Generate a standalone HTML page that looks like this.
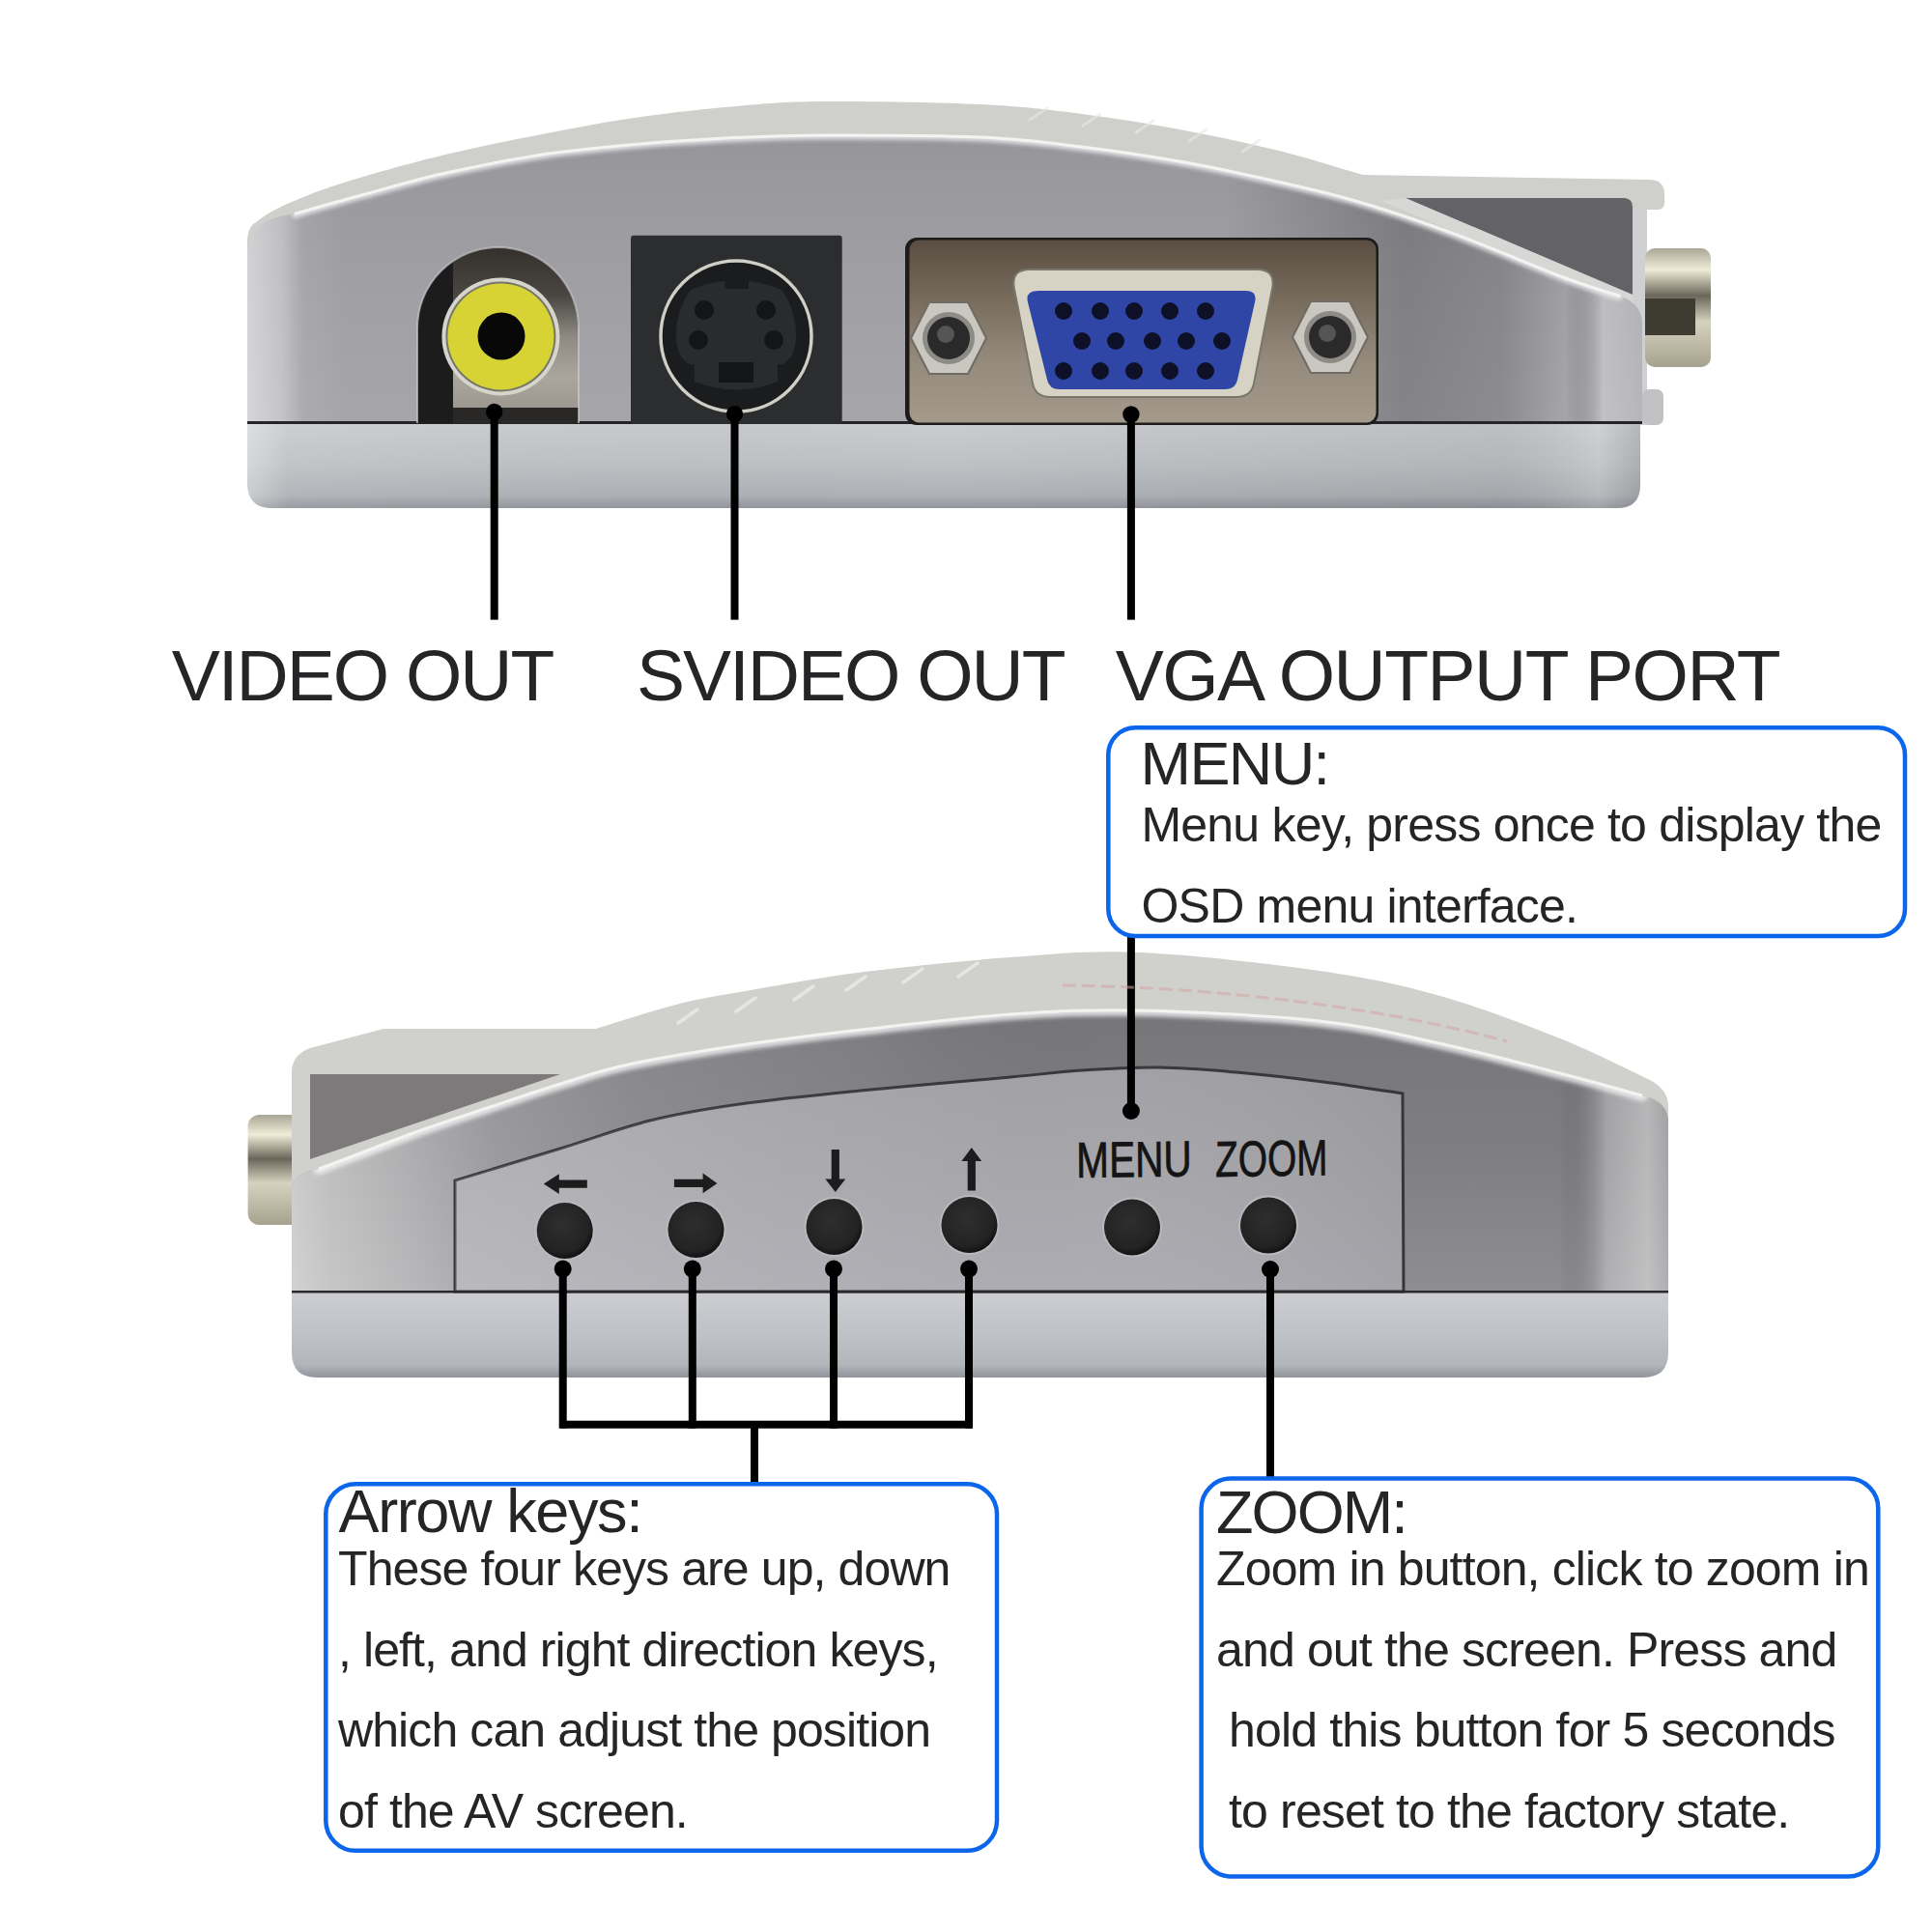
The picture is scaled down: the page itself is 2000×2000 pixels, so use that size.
<!DOCTYPE html>
<html><head><meta charset="utf-8"><style>
html,body{margin:0;padding:0;background:#fff;}
#root{position:relative;width:2000px;height:2000px;overflow:hidden;background:#fff;}
#root svg{position:absolute;left:0;top:0;}
.t div{position:absolute;white-space:pre;font-family:"Liberation Sans",sans-serif;line-height:1;}
</style></head><body><div id="root">
<svg width="2000" height="2000" viewBox="0 0 2000 2000">
<defs><linearGradient id="faceTv" gradientUnits="userSpaceOnUse" x1="0" y1="130" x2="0" y2="438"><stop offset="0" stop-color="#949499"/><stop offset="0.25" stop-color="#9a9a9f"/><stop offset="0.6" stop-color="#a0a0a5"/><stop offset="1" stop-color="#a5a5aa"/></linearGradient>
<linearGradient id="faceTh" gradientUnits="userSpaceOnUse" x1="256" y1="0" x2="1700" y2="0"><stop offset="0" stop-color="#fff" stop-opacity="0.55"/><stop offset="0.025" stop-color="#fff" stop-opacity="0.35"/><stop offset="0.04" stop-color="#fff" stop-opacity="0.08"/><stop offset="0.07" stop-color="#fff" stop-opacity="0"/><stop offset="0.7" stop-color="#000" stop-opacity="0"/><stop offset="0.83" stop-color="#000" stop-opacity="0.2"/><stop offset="0.9" stop-color="#000" stop-opacity="0.15"/><stop offset="0.945" stop-color="#000" stop-opacity="0"/><stop offset="0.972" stop-color="#fff" stop-opacity="0.32"/><stop offset="1" stop-color="#fff" stop-opacity="0.2"/></linearGradient>
<linearGradient id="plateTv" gradientUnits="userSpaceOnUse" x1="0" y1="438" x2="0" y2="526"><stop offset="0" stop-color="#cacccf"/><stop offset="0.5" stop-color="#bec1c4"/><stop offset="0.85" stop-color="#aeb1b5"/><stop offset="1" stop-color="#93969c"/></linearGradient>
<linearGradient id="plateTh" gradientUnits="userSpaceOnUse" x1="256" y1="0" x2="1698" y2="0"><stop offset="0" stop-color="#fff" stop-opacity="0.35"/><stop offset="0.03" stop-color="#fff" stop-opacity="0.05"/><stop offset="0.5" stop-color="#000" stop-opacity="0"/><stop offset="0.9" stop-color="#000" stop-opacity="0.06"/><stop offset="0.97" stop-color="#fff" stop-opacity="0.1"/><stop offset="1" stop-color="#000" stop-opacity="0.1"/></linearGradient>
<linearGradient id="vgaPlate" gradientUnits="userSpaceOnUse" x1="0" y1="249" x2="0" y2="437"><stop offset="0" stop-color="#5a4e42"/><stop offset="0.3" stop-color="#75695a"/><stop offset="0.65" stop-color="#948a7c"/><stop offset="1" stop-color="#a39a8c"/></linearGradient>
<linearGradient id="brass" gradientUnits="userSpaceOnUse" x1="0" y1="0" x2="0" y2="1"><stop offset="0" stop-color="#b9b6a6"/><stop offset="0.2" stop-color="#ecead8"/><stop offset="0.45" stop-color="#8c8a7a"/><stop offset="0.7" stop-color="#d8d5c3"/><stop offset="1" stop-color="#bab6a2"/></linearGradient>
<linearGradient id="brassV" x1="0" y1="0" x2="0" y2="1"><stop offset="0" stop-color="#a9a696"/><stop offset="0.18" stop-color="#efecd8"/><stop offset="0.4" stop-color="#6a675a"/><stop offset="0.62" stop-color="#d5d2bf"/><stop offset="1" stop-color="#a6a28e"/></linearGradient>
<radialGradient id="btn" cx="0.45" cy="0.4" r="0.6"><stop offset="0" stop-color="#2e2e2e"/><stop offset="0.8" stop-color="#232323"/><stop offset="1" stop-color="#121212"/></radialGradient>
<clipPath id="clipFaceT"><path d="M256,438 L256,262 Q256,228 306,221 C317.3,217.8 348.8,208.8 374.0,202.0 C399.2,195.2 425.8,187.0 457.0,180.0 C488.2,173.0 528.8,165.0 561.0,160.0 C593.2,155.0 618.5,152.8 650.0,150.0 C681.5,147.2 716.7,144.7 750.0,143.0 C783.3,141.3 806.0,140.2 850.0,140.0 C894.0,139.8 969.0,140.0 1014.0,142.0 C1059.0,144.0 1085.5,147.8 1120.0,152.0 C1154.5,156.2 1191.0,161.8 1221.0,167.0 C1251.0,172.2 1270.2,176.3 1300.0,183.0 C1329.8,189.7 1366.7,197.5 1400.0,207.0 C1433.3,216.5 1463.2,226.5 1500.0,240.0 C1536.8,253.5 1591.7,277.0 1621.0,288.0 C1650.3,299.0 1666.8,303.0 1676.0,306.0 Q1700,314 1700,336 L1700,438 Z"/></clipPath>
<filter id="soft" x="-5%" y="-50%" width="110%" height="200%"><feGaussianBlur stdDeviation="2.2"/></filter>
<clipPath id="clipPlateT"><path d="M256,438 L1698,438 L1698,502 Q1698,526 1674,526 L282,526 Q256,526 256,500 Z"/></clipPath>
<clipPath id="archClip"><path d="M432,438 L432,339.5 A83.5,83.5 0 0 1 599,339.5 L599,438 Z"/></clipPath>
<linearGradient id="rcaIn" gradientUnits="userSpaceOnUse" x1="0" y1="256" x2="0" y2="424"><stop offset="0" stop-color="#34312d"/><stop offset="0.3" stop-color="#4a4742"/><stop offset="0.55" stop-color="#8e8a83"/><stop offset="0.8" stop-color="#aaa69e"/><stop offset="1" stop-color="#9c988f"/></linearGradient>
<linearGradient id="faceBv" gradientUnits="userSpaceOnUse" x1="0" y1="1040" x2="0" y2="1337"><stop offset="0" stop-color="#767679"/><stop offset="0.5" stop-color="#7e7e81"/><stop offset="1" stop-color="#8e8e91"/></linearGradient>
<linearGradient id="faceBh" gradientUnits="userSpaceOnUse" x1="302" y1="0" x2="1727" y2="0"><stop offset="0" stop-color="#fff" stop-opacity="0.6"/><stop offset="0.027" stop-color="#fff" stop-opacity="0.5"/><stop offset="0.083" stop-color="#fff" stop-opacity="0.38"/><stop offset="0.15" stop-color="#fff" stop-opacity="0.22"/><stop offset="0.25" stop-color="#fff" stop-opacity="0.12"/><stop offset="0.42" stop-color="#fff" stop-opacity="0.05"/><stop offset="0.6" stop-color="#000" stop-opacity="0"/><stop offset="0.92" stop-color="#000" stop-opacity="0"/><stop offset="0.955" stop-color="#fff" stop-opacity="0.3"/><stop offset="0.985" stop-color="#fff" stop-opacity="0.45"/><stop offset="1" stop-color="#fff" stop-opacity="0.3"/></linearGradient>
<linearGradient id="panelBv" gradientUnits="userSpaceOnUse" x1="0" y1="1100" x2="0" y2="1337"><stop offset="0" stop-color="#a0a0a5"/><stop offset="0.5" stop-color="#a6a6ab"/><stop offset="1" stop-color="#acacb2"/></linearGradient>
<linearGradient id="panelBh" gradientUnits="userSpaceOnUse" x1="479" y1="0" x2="1450" y2="0"><stop offset="0" stop-color="#fff" stop-opacity="0.15"/><stop offset="0.35" stop-color="#fff" stop-opacity="0.05"/><stop offset="0.6" stop-color="#fff" stop-opacity="0"/><stop offset="1" stop-color="#000" stop-opacity="0.05"/></linearGradient>
<linearGradient id="plateBv" gradientUnits="userSpaceOnUse" x1="0" y1="1339" x2="0" y2="1426"><stop offset="0" stop-color="#cbcdd1"/><stop offset="0.5" stop-color="#bec1c6"/><stop offset="0.85" stop-color="#b2b5ba"/><stop offset="1" stop-color="#90939a"/></linearGradient>
<clipPath id="clipFaceB"><path d="M302,1338 L302,1232 Q302,1214 330,1210 C335.3,1208.0 345.3,1204.3 362.0,1198.0 C378.7,1191.7 405.8,1180.7 430.0,1172.0 C454.2,1163.3 482.0,1154.3 507.0,1146.0 C532.0,1137.7 556.2,1129.3 580.0,1122.0 C603.8,1114.7 619.0,1108.7 650.0,1102.0 C681.0,1095.3 725.8,1088.0 766.0,1082.0 C806.2,1076.0 844.3,1071.3 891.0,1066.0 C937.7,1060.7 997.8,1053.3 1046.0,1050.0 C1094.2,1046.7 1126.7,1044.8 1180.0,1046.0 C1233.3,1047.2 1314.3,1051.3 1366.0,1057.0 C1417.7,1062.7 1448.5,1071.0 1490.0,1080.0 C1531.5,1089.0 1580.0,1102.0 1615.0,1111.0 C1650.0,1120.0 1685.8,1130.2 1700.0,1134.0 Q1727,1140 1727,1162 L1727,1338 Z"/></clipPath>
<clipPath id="clipPanelB"><path d="M471,1337 L471,1222 C489.2,1216.5 546.3,1199.3 580.0,1189.0 C613.7,1178.7 642.0,1167.7 673.0,1160.0 C704.0,1152.3 729.7,1148.2 766.0,1143.0 C802.3,1137.8 844.3,1133.7 891.0,1129.0 C937.7,1124.3 1007.8,1118.5 1046.0,1115.0 C1084.2,1111.5 1094.3,1109.7 1120.0,1108.0 C1145.7,1106.3 1173.3,1104.7 1200.0,1105.0 C1226.7,1105.3 1251.7,1107.5 1280.0,1110.0 C1308.3,1112.5 1341.3,1116.3 1370.0,1120.0 C1398.7,1123.7 1438.3,1130.0 1452.0,1132.0 L1453,1337 Z"/></clipPath></defs>
<rect x="1688" y="200" width="17" height="240" fill="#cfd0d2"/>
<rect x="1703" y="257" width="68" height="123" rx="10" fill="url(#brassV)"/>
<rect x="1703" y="309" width="52" height="38" fill="#3e3c30"/>
<rect x="1700" y="403" width="22" height="37" rx="7" fill="#c2c2c4"/>
<path d="M256,440 L256,250 Q256,238 262,232 C266.8,229.0 275.8,221.0 291.0,214.0 C306.2,207.0 325.3,198.8 353.0,190.0 C380.7,181.2 422.3,169.5 457.0,161.0 C491.7,152.5 528.8,145.3 561.0,139.0 C593.2,132.7 618.5,127.7 650.0,123.0 C681.5,118.3 716.7,114.0 750.0,111.0 C783.3,108.0 806.0,105.5 850.0,105.0 C894.0,104.5 969.0,105.8 1014.0,108.0 C1059.0,110.2 1085.5,113.7 1120.0,118.0 C1154.5,122.3 1187.7,127.8 1221.0,134.0 C1254.3,140.2 1288.3,147.2 1320.0,155.0 C1351.7,162.8 1395.8,176.7 1411.0,181.0 L1709,186 Q1723,187 1723,201 L1723,210 Q1723,217 1716,217 L1690,217 L1690,440 Z" fill="#cfcfcc"/>
<path d="M1455,205 L1682,205 Q1690,206 1690,214 L1690,305 Z" fill="#636367"/>
<path d="M1455,205 L1690,305 L1690,318 L1430,208 Z" fill="#dcdcdc" opacity="0.6"/>
<path d="M256,438 L256,262 Q256,228 306,221 C317.3,217.8 348.8,208.8 374.0,202.0 C399.2,195.2 425.8,187.0 457.0,180.0 C488.2,173.0 528.8,165.0 561.0,160.0 C593.2,155.0 618.5,152.8 650.0,150.0 C681.5,147.2 716.7,144.7 750.0,143.0 C783.3,141.3 806.0,140.2 850.0,140.0 C894.0,139.8 969.0,140.0 1014.0,142.0 C1059.0,144.0 1085.5,147.8 1120.0,152.0 C1154.5,156.2 1191.0,161.8 1221.0,167.0 C1251.0,172.2 1270.2,176.3 1300.0,183.0 C1329.8,189.7 1366.7,197.5 1400.0,207.0 C1433.3,216.5 1463.2,226.5 1500.0,240.0 C1536.8,253.5 1591.7,277.0 1621.0,288.0 C1650.3,299.0 1666.8,303.0 1676.0,306.0 Q1700,314 1700,336 L1700,438 Z" fill="url(#faceTv)"/>
<rect x="256" y="130" width="1444" height="310" fill="url(#faceTh)" clip-path="url(#clipFaceT)"/>
<path d="M306,221 C317.3,217.8 348.8,208.8 374.0,202.0 C399.2,195.2 425.8,187.0 457.0,180.0 C488.2,173.0 528.8,165.0 561.0,160.0 C593.2,155.0 618.5,152.8 650.0,150.0 C681.5,147.2 716.7,144.7 750.0,143.0 C783.3,141.3 806.0,140.2 850.0,140.0 C894.0,139.8 969.0,140.0 1014.0,142.0 C1059.0,144.0 1085.5,147.8 1120.0,152.0 C1154.5,156.2 1191.0,161.8 1221.0,167.0 C1251.0,172.2 1270.2,176.3 1300.0,183.0 C1329.8,189.7 1366.7,197.5 1400.0,207.0 C1433.3,216.5 1463.2,226.5 1500.0,240.0 C1536.8,253.5 1591.7,277.0 1621.0,288.0 C1650.3,299.0 1666.8,303.0 1676.0,306.0" fill="none" stroke="#f2f3f4" stroke-width="9" stroke-linecap="round" opacity="0.8" filter="url(#soft)" clip-path="url(#clipFaceT)"/>
<path d="M306,221 C317.3,217.8 348.8,208.8 374.0,202.0 C399.2,195.2 425.8,187.0 457.0,180.0 C488.2,173.0 528.8,165.0 561.0,160.0 C593.2,155.0 618.5,152.8 650.0,150.0 C681.5,147.2 716.7,144.7 750.0,143.0 C783.3,141.3 806.0,140.2 850.0,140.0 C894.0,139.8 969.0,140.0 1014.0,142.0 C1059.0,144.0 1085.5,147.8 1120.0,152.0 C1154.5,156.2 1191.0,161.8 1221.0,167.0 C1251.0,172.2 1270.2,176.3 1300.0,183.0 C1329.8,189.7 1366.7,197.5 1400.0,207.0 C1433.3,216.5 1463.2,226.5 1500.0,240.0 C1536.8,253.5 1591.7,277.0 1621.0,288.0 C1650.3,299.0 1666.8,303.0 1676.0,306.0" fill="none" stroke="#f6f6f4" stroke-width="3" stroke-linecap="round" opacity="0.9"/>
<path d="M256,438 L1698,438 L1698,502 Q1698,526 1674,526 L282,526 Q256,526 256,500 Z" fill="url(#plateTv)"/>
<rect x="256" y="436" width="1444" height="92" fill="url(#plateTh)" clip-path="url(#clipPlateT)"/>
<rect x="256" y="436" width="1444" height="3" fill="#252527"/>
<path d="M432,438 L432,339.5 A83.5,83.5 0 0 1 599,339.5 L599,438 Z" fill="#1c1c1d"/>
<g clip-path="url(#archClip)"><rect x="469" y="250" width="132" height="174" fill="url(#rcaIn)"/><rect x="469" y="422" width="132" height="16" fill="#2a2826"/></g>
<path d="M432,438 L432,339.5 A83.5,83.5 0 0 1 599,339.5 L599,438" fill="none" stroke="#c9cacd" stroke-width="2" opacity="0.7"/>
<circle cx="518.4" cy="348.4" r="61" fill="#d6d5cb"/>
<circle cx="518.4" cy="348.4" r="57" fill="#77766a"/>
<circle cx="518.4" cy="348.4" r="55" fill="#d8d334"/>
<circle cx="519" cy="348" r="24.5" fill="#080808"/>
<rect x="653" y="243.7" width="218.7" height="195.3" rx="3" fill="#2b2d2f"/>
<circle cx="762" cy="348" r="78" fill="#1b1c1e" stroke="#cfcfc6" stroke-width="3.5"/>
<path d="M715,300 Q762,280 809,300 Q824,320 824,348 Q824,370 810,377 L805,377 L805,395 Q762,412 719,395 L719,377 L714,377 Q700,370 700,348 Q700,320 715,300 Z" fill="#292b2d"/>
<rect x="750.5" y="290" width="24.5" height="9" fill="#1b1c1e"/>
<circle cx="729" cy="321" r="10" fill="#141516"/>
<circle cx="793" cy="321" r="10" fill="#141516"/>
<circle cx="723" cy="352" r="10" fill="#141516"/>
<circle cx="801" cy="352" r="10" fill="#141516"/>
<rect x="744" y="375" width="36" height="21" fill="#141516"/>
<rect x="937" y="246" width="490" height="194" rx="12" fill="#1e1c1a"/>
<rect x="941.5" y="248.5" width="483" height="189" rx="10" fill="url(#vgaPlate)"/>
<polygon points="943,350 962,313 1002,313 1021,350 1002,387 962,387" fill="#c9c7c0" stroke="#6e6b64" stroke-width="2"/>
<circle cx="982" cy="350" r="27" fill="#8d8b86"/>
<circle cx="982" cy="350" r="22" fill="#2a2a2a"/>
<circle cx="979" cy="346" r="9" fill="#555"/>
<polygon points="1338,349 1357,312 1397,312 1416,349 1397,386 1357,386" fill="#c9c7c0" stroke="#6e6b64" stroke-width="2"/>
<circle cx="1377" cy="349" r="27" fill="#8d8b86"/>
<circle cx="1377" cy="349" r="22" fill="#2a2a2a"/>
<circle cx="1374" cy="345" r="9" fill="#555"/>
<path d="M1066,279 L1301,279 Q1321,279 1317,299 L1298,397 Q1295,411 1280,411 L1087,411 Q1072,411 1069,397 L1050,299 Q1046,279 1066,279 Z" fill="#d6d2c4" stroke="#7a766c" stroke-width="2"/>
<path d="M1075,301 L1290,301 Q1302,301 1299,313 L1281,393 Q1279,403 1268,403 L1097,403 Q1086,403 1084,393 L1064,313 Q1061,301 1075,301 Z" fill="#2f46a6"/>
<circle cx="1101" cy="322" r="9" fill="#0e1028"/>
<circle cx="1139" cy="322" r="9" fill="#0e1028"/>
<circle cx="1174" cy="322" r="9" fill="#0e1028"/>
<circle cx="1211" cy="322" r="9" fill="#0e1028"/>
<circle cx="1248" cy="322" r="9" fill="#0e1028"/>
<circle cx="1120" cy="353" r="9" fill="#0e1028"/>
<circle cx="1155" cy="353" r="9" fill="#0e1028"/>
<circle cx="1193" cy="353" r="9" fill="#0e1028"/>
<circle cx="1228" cy="353" r="9" fill="#0e1028"/>
<circle cx="1265" cy="353" r="9" fill="#0e1028"/>
<circle cx="1101" cy="384" r="9" fill="#0e1028"/>
<circle cx="1139" cy="384" r="9" fill="#0e1028"/>
<circle cx="1174" cy="384" r="9" fill="#0e1028"/>
<circle cx="1211" cy="384" r="9" fill="#0e1028"/>
<circle cx="1248" cy="384" r="9" fill="#0e1028"/>
<rect x="507.7" y="426.5" width="8" height="215.10000000000002" fill="#000"/>
<circle cx="511.7" cy="426.5" r="8.7" fill="#000"/>
<rect x="756.5" y="428.7" width="8" height="212.90000000000003" fill="#000"/>
<circle cx="760.5" cy="428.7" r="8.7" fill="#000"/>
<rect x="1166.9" y="429" width="8" height="212.60000000000002" fill="#000"/>
<circle cx="1170.9" cy="429" r="8.7" fill="#000"/>
<rect x="256.6" y="1154" width="60" height="114" rx="12" fill="url(#brassV)"/>
<path d="M302,1340 L302,1110 Q302,1092 321,1085 L397,1065 L617,1065 C630.8,1060.8 675.2,1046.3 700.0,1040.0 C724.8,1033.7 734.2,1032.6 766.0,1027.0 C797.8,1021.4 844.3,1012.6 891.0,1006.6 C937.7,1000.6 997.8,994.4 1046.0,991.0 C1094.2,987.6 1126.7,983.7 1180.0,986.0 C1233.3,988.3 1314.2,997.5 1366.0,1005.0 C1417.8,1012.5 1449.5,1019.3 1491.0,1031.0 C1532.5,1042.7 1578.8,1060.5 1615.0,1075.0 C1651.2,1089.5 1692.5,1110.8 1708.0,1118.0 Q1727,1128 1727,1145 L1727,1340 Z" fill="#d0d0cd"/>
<path d="M321,1112 L580,1112 L321,1200 Z" fill="#7e7a7c"/>
<path d="M302,1338 L302,1232 Q302,1214 330,1210 C335.3,1208.0 345.3,1204.3 362.0,1198.0 C378.7,1191.7 405.8,1180.7 430.0,1172.0 C454.2,1163.3 482.0,1154.3 507.0,1146.0 C532.0,1137.7 556.2,1129.3 580.0,1122.0 C603.8,1114.7 619.0,1108.7 650.0,1102.0 C681.0,1095.3 725.8,1088.0 766.0,1082.0 C806.2,1076.0 844.3,1071.3 891.0,1066.0 C937.7,1060.7 997.8,1053.3 1046.0,1050.0 C1094.2,1046.7 1126.7,1044.8 1180.0,1046.0 C1233.3,1047.2 1314.3,1051.3 1366.0,1057.0 C1417.7,1062.7 1448.5,1071.0 1490.0,1080.0 C1531.5,1089.0 1580.0,1102.0 1615.0,1111.0 C1650.0,1120.0 1685.8,1130.2 1700.0,1134.0 Q1727,1140 1727,1162 L1727,1338 Z" fill="url(#faceBv)"/>
<rect x="302" y="1040" width="1425" height="300" fill="url(#faceBh)" clip-path="url(#clipFaceB)"/>
<path d="M330,1210 C335.3,1208.0 345.3,1204.3 362.0,1198.0 C378.7,1191.7 405.8,1180.7 430.0,1172.0 C454.2,1163.3 482.0,1154.3 507.0,1146.0 C532.0,1137.7 556.2,1129.3 580.0,1122.0 C603.8,1114.7 619.0,1108.7 650.0,1102.0 C681.0,1095.3 725.8,1088.0 766.0,1082.0 C806.2,1076.0 844.3,1071.3 891.0,1066.0 C937.7,1060.7 997.8,1053.3 1046.0,1050.0 C1094.2,1046.7 1126.7,1044.8 1180.0,1046.0 C1233.3,1047.2 1314.3,1051.3 1366.0,1057.0 C1417.7,1062.7 1448.5,1071.0 1490.0,1080.0 C1531.5,1089.0 1580.0,1102.0 1615.0,1111.0 C1650.0,1120.0 1685.8,1130.2 1700.0,1134.0" fill="none" stroke="#f2f3f4" stroke-width="12" stroke-linecap="round" opacity="0.8" filter="url(#soft)" clip-path="url(#clipFaceB)"/>
<path d="M330,1210 C335.3,1208.0 345.3,1204.3 362.0,1198.0 C378.7,1191.7 405.8,1180.7 430.0,1172.0 C454.2,1163.3 482.0,1154.3 507.0,1146.0 C532.0,1137.7 556.2,1129.3 580.0,1122.0 C603.8,1114.7 619.0,1108.7 650.0,1102.0 C681.0,1095.3 725.8,1088.0 766.0,1082.0 C806.2,1076.0 844.3,1071.3 891.0,1066.0 C937.7,1060.7 997.8,1053.3 1046.0,1050.0 C1094.2,1046.7 1126.7,1044.8 1180.0,1046.0 C1233.3,1047.2 1314.3,1051.3 1366.0,1057.0 C1417.7,1062.7 1448.5,1071.0 1490.0,1080.0 C1531.5,1089.0 1580.0,1102.0 1615.0,1111.0 C1650.0,1120.0 1685.8,1130.2 1700.0,1134.0" fill="none" stroke="#f6f6f4" stroke-width="3" opacity="0.9"/>
<path d="M471,1337 L471,1222 C489.2,1216.5 546.3,1199.3 580.0,1189.0 C613.7,1178.7 642.0,1167.7 673.0,1160.0 C704.0,1152.3 729.7,1148.2 766.0,1143.0 C802.3,1137.8 844.3,1133.7 891.0,1129.0 C937.7,1124.3 1007.8,1118.5 1046.0,1115.0 C1084.2,1111.5 1094.3,1109.7 1120.0,1108.0 C1145.7,1106.3 1173.3,1104.7 1200.0,1105.0 C1226.7,1105.3 1251.7,1107.5 1280.0,1110.0 C1308.3,1112.5 1341.3,1116.3 1370.0,1120.0 C1398.7,1123.7 1438.3,1130.0 1452.0,1132.0 L1453,1337 Z" fill="url(#panelBv)" stroke="#38383a" stroke-width="3"/>
<rect x="471" y="1100" width="985" height="240" fill="url(#panelBh)" clip-path="url(#clipPanelB)"/>
<path d="M302,1339 L1727,1339 L1727,1400 Q1727,1426 1701,1426 L328,1426 Q302,1426 302,1400 Z" fill="url(#plateBv)"/>
<rect x="302" y="1336" width="1425" height="2.5" fill="#2a2a2c"/>
<circle cx="584.7" cy="1274" r="31" fill="#b8b9bd"/>
<circle cx="584.7" cy="1274" r="29" fill="url(#btn)"/>
<circle cx="720.5" cy="1273" r="31" fill="#b8b9bd"/>
<circle cx="720.5" cy="1273" r="29" fill="url(#btn)"/>
<circle cx="863.5" cy="1270" r="31" fill="#b8b9bd"/>
<circle cx="863.5" cy="1270" r="29" fill="url(#btn)"/>
<circle cx="1003.5" cy="1268" r="31" fill="#b8b9bd"/>
<circle cx="1003.5" cy="1268" r="29" fill="url(#btn)"/>
<circle cx="1172" cy="1270.5" r="31" fill="#b8b9bd"/>
<circle cx="1172" cy="1270.5" r="29" fill="url(#btn)"/>
<circle cx="1313" cy="1268.5" r="31" fill="#b8b9bd"/>
<circle cx="1313" cy="1268.5" r="29" fill="url(#btn)"/>
<path d="M562.8,1225.6 L578.8,1215.2 L578.8,1221.5 L607.8,1221.5 L607.8,1229.7 L578.8,1229.7 L578.8,1236 Z" fill="#1c1c1c"/>
<path d="M742.4,1224.9 L727.6,1214.5 L727.6,1220.8 L697.9,1220.8 L697.9,1229 L727.6,1229 L727.6,1235.3 Z" fill="#1c1c1c"/>
<path d="M864.8,1234 L854.4,1220.5 L860.7,1220.5 L860.7,1190 L868.9,1190 L868.9,1220.5 L875.2,1220.5 Z" fill="#1c1c1c"/>
<path d="M1005.8,1188 L995.4,1202 L1001.7,1202 L1001.7,1232.6 L1009.9,1232.6 L1009.9,1202 L1016.2,1202 Z" fill="#1c1c1c"/>
<circle cx="582.7" cy="1313.6" r="9" fill="#000"/>
<rect x="578.7" y="1313.6" width="8" height="165" fill="#000"/>
<circle cx="716.8" cy="1313.6" r="9" fill="#000"/>
<rect x="712.8" y="1313.6" width="8" height="165" fill="#000"/>
<circle cx="863" cy="1313.6" r="9" fill="#000"/>
<rect x="859" y="1313.6" width="8" height="165" fill="#000"/>
<circle cx="1003" cy="1313.6" r="9" fill="#000"/>
<rect x="999" y="1313.6" width="8" height="165" fill="#000"/>
<rect x="579.6" y="1470.7" width="427" height="8" fill="#000"/>
<rect x="777" y="1474" width="8" height="62" fill="#000"/>
<rect x="1166.9" y="969" width="8" height="181" fill="#000"/>
<circle cx="1170.9" cy="1150" r="9" fill="#000"/>
<circle cx="1315" cy="1314" r="9" fill="#000"/>
<rect x="1311" y="1314" width="8" height="216" fill="#000"/>
<path d="M702,1059 L722,1045" stroke="#ebebea" stroke-width="3.5" stroke-linecap="round" opacity="0.8"/>
<path d="M762,1047 L782,1033" stroke="#ebebea" stroke-width="3.5" stroke-linecap="round" opacity="0.8"/>
<path d="M822,1035 L842,1021" stroke="#ebebea" stroke-width="3.5" stroke-linecap="round" opacity="0.8"/>
<path d="M876,1025 L896,1011" stroke="#ebebea" stroke-width="3.5" stroke-linecap="round" opacity="0.8"/>
<path d="M935,1017 L955,1003" stroke="#ebebea" stroke-width="3.5" stroke-linecap="round" opacity="0.8"/>
<path d="M992,1011 L1012,997" stroke="#ebebea" stroke-width="3.5" stroke-linecap="round" opacity="0.8"/>
<path d="M1100,1020 C1250,1022 1420,1040 1560,1078" fill="none" stroke="#d4a4a4" stroke-width="3" stroke-dasharray="14 6" opacity="0.55"/>
<path d="M1066,124 L1084,112" stroke="#e8e8e6" stroke-width="3" stroke-linecap="round" opacity="0.6"/>
<path d="M1121,130 L1139,118" stroke="#e8e8e6" stroke-width="3" stroke-linecap="round" opacity="0.6"/>
<path d="M1176,137 L1194,125" stroke="#e8e8e6" stroke-width="3" stroke-linecap="round" opacity="0.6"/>
<path d="M1231,146 L1249,134" stroke="#e8e8e6" stroke-width="3" stroke-linecap="round" opacity="0.6"/>
<path d="M1286,157 L1304,145" stroke="#e8e8e6" stroke-width="3" stroke-linecap="round" opacity="0.6"/>
<rect x="1147.3" y="753.3" width="824.7" height="215.7" rx="28" fill="none" stroke="#0b66ec" stroke-width="4.5"/>
<rect x="337.3" y="1536.3" width="694.7" height="379.5" rx="31" fill="none" stroke="#0b66ec" stroke-width="4.5"/>
<rect x="1243.6" y="1530.5" width="700.7" height="412" rx="31" fill="none" stroke="#0b66ec" stroke-width="4.5"/>
</svg>
<div class="t">
<div style="left:177.7px;top:661.5px;font-size:75px;letter-spacing:-2px;color:#252528;">VIDEO OUT</div>
<div style="left:658.9px;top:661.5px;font-size:75px;letter-spacing:-2px;color:#252528;">SVIDEO OUT</div>
<div style="left:1154.7px;top:661.5px;font-size:75px;letter-spacing:-1.5px;color:#252528;">VGA OUTPUT PORT</div>
<div style="left:1180.5px;top:759px;font-size:63px;letter-spacing:-1.6px;color:#252528;">MENU:</div>
<div style="left:1181.5px;top:828.7px;font-size:50px;letter-spacing:-0.8px;color:#252528;">Menu key, press once to display the</div>
<div style="left:1181.5px;top:912.7px;font-size:50px;letter-spacing:-0.8px;color:#252528;">OSD menu interface.</div>
<div style="left:350.6px;top:1533.2px;font-size:63px;letter-spacing:-1.4px;color:#252528;">Arrow keys:</div>
<div style="left:350px;top:1599.0px;font-size:50px;letter-spacing:-0.9px;color:#252528;">These four keys are up, down</div>
<div style="left:350px;top:1682.7px;font-size:50px;letter-spacing:-0.9px;color:#252528;">, left, and right direction keys,</div>
<div style="left:350px;top:1766.4px;font-size:50px;letter-spacing:-0.9px;color:#252528;">which can adjust the position</div>
<div style="left:350px;top:1850.1px;font-size:50px;letter-spacing:-0.9px;color:#252528;">of the AV screen.</div>
<div style="left:1259px;top:1533.5px;font-size:63px;letter-spacing:-1.9px;color:#252528;">ZOOM:</div>
<div style="left:1259px;top:1599.0px;font-size:50px;letter-spacing:-0.85px;color:#252528;">Zoom in button, click to zoom in</div>
<div style="left:1259px;top:1682.7px;font-size:50px;letter-spacing:-0.85px;color:#252528;">and out the screen. Press and</div>
<div style="left:1259px;top:1766.4px;font-size:50px;letter-spacing:-0.85px;color:#252528;"> hold this button for 5 seconds</div>
<div style="left:1259px;top:1850.1px;font-size:50px;letter-spacing:-0.85px;color:#252528;"> to reset to the factory state.</div>
<div style="left:1113.5px;top:1175.4px;font-size:52px;letter-spacing:0px;color:#141414;transform:scaleX(0.78) rotate(-0.6deg);transform-origin:0 0;-webkit-text-stroke:0.8px #141414;">MENU</div>
<div style="left:1258px;top:1174px;font-size:52px;letter-spacing:0px;color:#141414;transform:scaleX(0.745) rotate(-0.6deg);transform-origin:0 0;-webkit-text-stroke:0.8px #141414;">ZOOM</div>
</div>
</div></body></html>
